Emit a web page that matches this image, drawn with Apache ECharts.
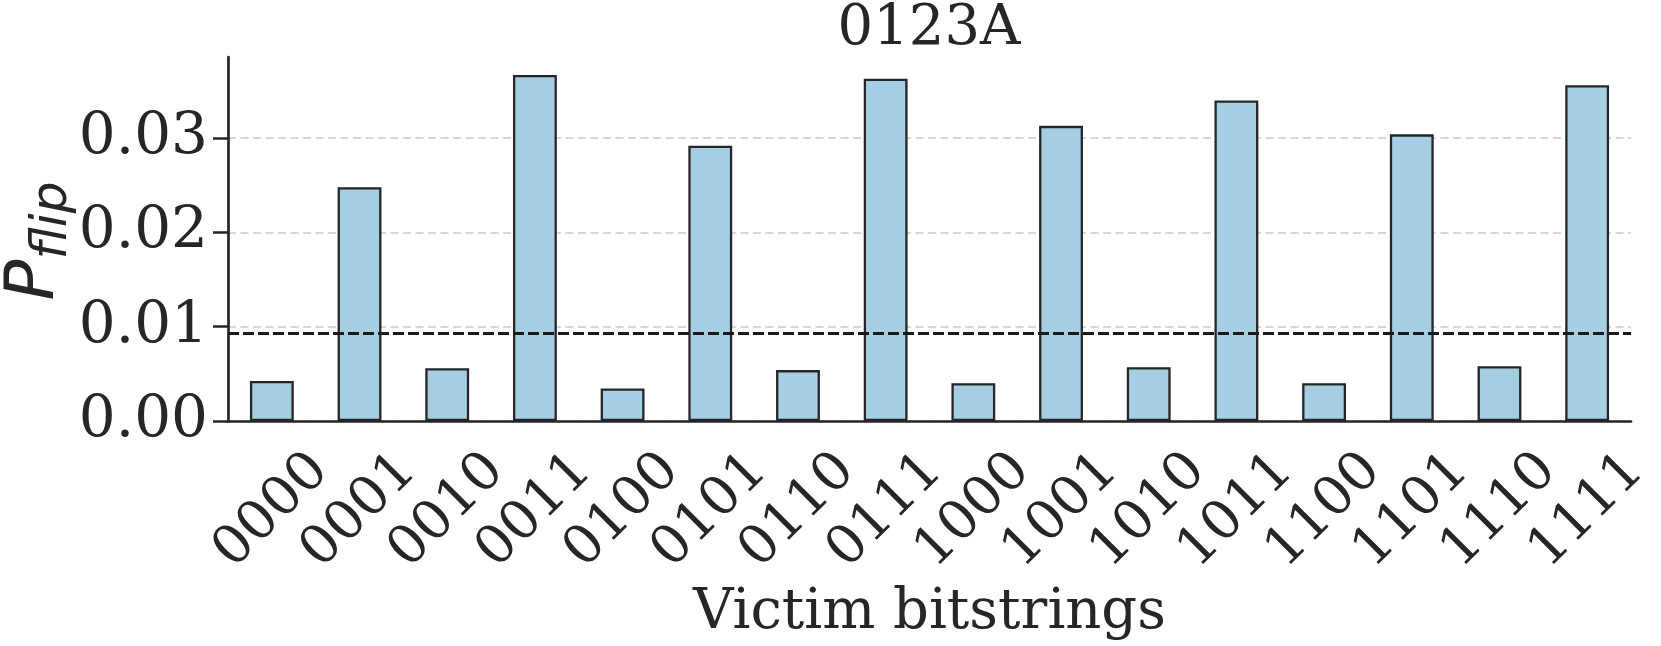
<!DOCTYPE html>
<html>
<head>
<meta charset="utf-8">
<script src="https://cdn.jsdelivr.net/npm/echarts@6/dist/echarts.min.js"></script>
<style>
  html, body { margin: 0; padding: 0; background: #fff; }
  #chart { width: 1661px; height: 646px; }
</style>
</head>
<body>
<div id="chart"></div>
<script>
// data
const categories = ["0000", "0001", "0010", "0011", "0100", "0101", "0110", "0111",
  "1000", "1001", "1010", "1011", "1100", "1101", "1110", "1111"];
const pFlip = [0.00425, 0.0248, 0.0056, 0.0367, 0.00344, 0.0292, 0.0054, 0.0363,
  0.0040, 0.0313, 0.0057, 0.0340, 0.0040, 0.0304, 0.0058, 0.0356];
const threshold = 0.0093;
const yTicks = [0, 0.01, 0.02, 0.03];
const yMax = 0.0386;

const ink = "#262626";
const serif = "DejaVu Serif";

const chart = echarts.init(document.getElementById("chart"));
chart.setOption({
  animation: false,
  title: {
    text: "0123A",
    left: 924,
    textAlign: "center",
    top: -4,
    textStyle: { fontFamily: serif, fontSize: 56, fontWeight: "normal", color: ink },
  },
  // y axis title P_flip, placed by hand so it is not pushed off the page
  graphic: [
    {
      type: "text",
      x: 40,
      y: 241,
      rotation: Math.PI / 2,
      style: {
        text: "{p|P}{s|flip}",
        align: "center",
        verticalAlign: "middle",
        rich: {
          p: { fontFamily: "DejaVu Sans", fontStyle: "italic", fontSize: 68, fill: ink,
               verticalAlign: "bottom", padding: [0, 0, 9, 0] },
          s: { fontFamily: "DejaVu Sans", fontStyle: "italic", fontSize: 50, fill: ink,
               verticalAlign: "bottom" },
        },
      },
    },
  ],
  grid: { left: 228, right: 30, top: 57, bottom: 225, containLabel: false, outerBoundsMode: "none" },
  xAxis: {
    type: "category",
    data: categories,
    name: "Victim bitstrings",
    nameLocation: "middle",
    nameGap: 162,
    nameTextStyle: { fontFamily: serif, fontSize: 56, color: ink },
    axisLine: { lineStyle: { color: ink, width: 2.7 } },
    axisTick: { alignWithLabel: true, length: 15, lineStyle: { color: ink, width: 2.5 } },
    axisLabel: {
      rotate: 45,
      align: "center",
      verticalAlign: "middle",
      margin: 90,
      interval: 0,
      fontFamily: serif,
      fontSize: 54,
      color: ink,
    },
    splitLine: { show: false },
  },
  yAxis: {
    type: "value",
    min: 0,
    max: yMax,
    interval: 0.01,
    axisLine: { show: true, lineStyle: { color: ink, width: 2.7 } },
    axisTick: { show: true, length: 15, customValues: yTicks, lineStyle: { color: ink, width: 2.5 } },
    axisLabel: {
      customValues: yTicks,
      margin: 20,
      fontFamily: serif,
      fontSize: 58,
      color: ink,
      formatter: (v) => v.toFixed(2),
    },
    splitLine: {
      show: true,
      lineStyle: { color: "#cccccc", width: 1.5, type: [8, 4.5] },
    },
  },
  series: [
    {
      type: "bar",
      data: pFlip,
      barWidth: "50%",
      itemStyle: { color: "#a6cee3", borderColor: ink, borderWidth: 2.3 },
      markLine: {
        silent: true,
        symbol: "none",
        precision: 5,
        label: { show: false },
        lineStyle: { color: "#1a1a1a", width: 3, type: [11, 4] },
        data: [{ yAxis: threshold }],
      },
    },
  ],
});
</script>
</body>
</html>
